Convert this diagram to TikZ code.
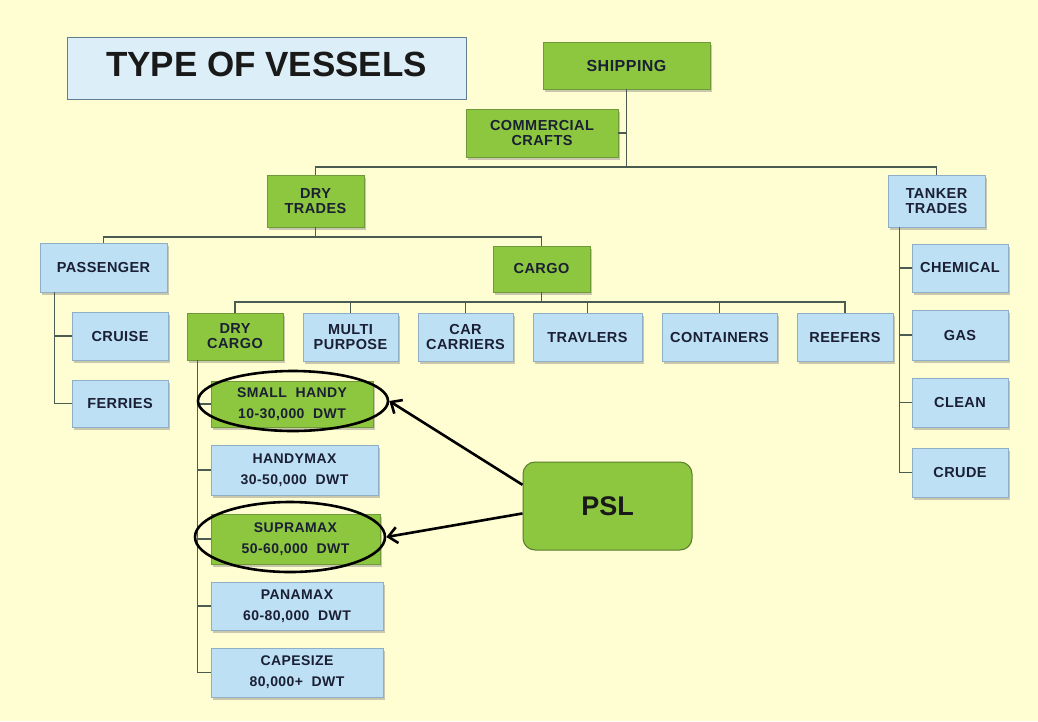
\documentclass[tikz,border=0pt]{standalone}
\usepackage{fontspec}
\setmainfont{Liberation Sans}
\newfontfamily\boxfont[LetterSpace=3]{Liberation Sans}
\usetikzlibrary{shadows,arrows.meta,calc,shapes.geometric}
\definecolor{bg}{HTML}{FFFDD2}
\definecolor{gfill}{HTML}{8DC63F}
\definecolor{gline}{HTML}{6E9A3A}
\definecolor{bfill}{HTML}{BEE0F5}
\definecolor{bline}{HTML}{8FAFC6}
\definecolor{tfill}{HTML}{DCEFF9}
\definecolor{tline}{HTML}{5F7F8F}
\definecolor{linec}{HTML}{4A5C52}
\definecolor{ink}{HTML}{1A1F33}
\begin{document}
\begin{tikzpicture}[x=1pt,y=-1pt,
  base/.style={rectangle, inner sep=0pt, align=center, text=ink,
    font=\boxfont\bfseries\fontsize{14.5}{15}\selectfont, line width=0.6pt,
    drop shadow={shadow xshift=2pt, shadow yshift=-3pt, opacity=0.35, fill=black!60}},
  gbox/.style={base, fill=gfill, draw=gline},
  bbox/.style={base, fill=bfill, draw=bline},
  tall/.style={font=\boxfont\bfseries\fontsize{14}{21}\selectfont},
  wire/.style={draw=linec, line width=1.5pt},
  ring/.style={ellipse, draw=black, line width=2.6pt, inner sep=0pt},
  pointer/.style={draw=black, line width=2.6pt, -{Straight Barb[length=9pt,width=16pt]}}
]
\fill[bg] (0,0) rectangle (1038,721);

% title
\node[rectangle, fill=tfill, draw=tline, line width=1pt, minimum width=399pt, minimum height=62pt,
  text depth=8pt, font=\bfseries\fontsize{35}{35}\selectfont, text=black!90] (title) at (266.5,68) {TYPE OF VESSELS};

% top levels
\node[gbox, minimum width=167pt, minimum height=47pt, font=\boxfont\bfseries\fontsize{16}{16}\selectfont] (ship) at (626.5,65.5) {SHIPPING};
\node[gbox, minimum width=152pt, minimum height=48pt] (comm) at (542,133) {COMMERCIAL\\CRAFTS};
\node[gbox, minimum width=97pt, minimum height=52pt] (dry) at (315.5,201) {DRY\\TRADES};
\node[bbox, minimum width=97pt, minimum height=52pt] (tank) at (936.5,201) {TANKER\\TRADES};

% dry trades children
\node[bbox, minimum width=127pt, minimum height=49pt] (pass) at (103.5,267.5) {PASSENGER};
\node[gbox, minimum width=97pt, minimum height=46pt] (cargo) at (541.5,269) {CARGO};
\node[bbox, minimum width=96pt, minimum height=48pt] (cruise) at (120,336) {CRUISE};
\node[bbox, minimum width=96pt, minimum height=47pt] (ferries) at (120,403.5) {FERRIES};

% cargo children
\node[gbox, minimum width=96pt, minimum height=47pt] (drycargo) at (235,336.5) {DRY\\CARGO};
\node[bbox, minimum width=95pt, minimum height=48pt] (multi) at (350.5,337) {MULTI\\PURPOSE};
\node[bbox, minimum width=95pt, minimum height=48pt] (car) at (465.5,337) {CAR\\CARRIERS};
\node[bbox, minimum width=109pt, minimum height=48pt] (trav) at (587.5,337) {TRAVLERS};
\node[bbox, minimum width=115pt, minimum height=48pt] (cont) at (719.5,337) {CONTAINERS};
\node[bbox, minimum width=96pt, minimum height=48pt] (reef) at (845,337) {REEFERS};

% dry cargo children
\node[gbox, tall, minimum width=162pt, minimum height=46pt] (small) at (292,404) {SMALL\ \ HANDY\\10-30,000\ \ DWT};
\node[bbox, tall, minimum width=167pt, minimum height=50pt] (handy) at (294.5,470) {HANDYMAX\\30-50,000\ \ DWT};
\node[gbox, tall, minimum width=169pt, minimum height=50pt] (supra) at (295.5,539) {SUPRAMAX\\50-60,000\ \ DWT};
\node[bbox, tall, minimum width=172pt, minimum height=48pt] (pana) at (297,606) {PANAMAX\\60-80,000\ \ DWT};
\node[bbox, tall, minimum width=172pt, minimum height=49pt] (cape) at (297,672.5) {CAPESIZE\\80,000+\ \ DWT};

% tanker children
\node[bbox, minimum width=96pt, minimum height=48pt] (chem) at (960,268) {CHEMICAL};
\node[bbox, minimum width=96pt, minimum height=50pt] (gas) at (960,335) {GAS};
\node[bbox, minimum width=96pt, minimum height=49pt] (clean) at (960,402.5) {CLEAN};
\node[bbox, minimum width=96pt, minimum height=49pt] (crude) at (960,472.5) {CRUDE};

% PSL
\node[rectangle, rounded corners=12pt, fill=gfill, draw=gline!80!black, line width=1pt,
  minimum width=169pt, minimum height=88pt, font=\bfseries\fontsize{27}{27}\selectfont,
  text=black!90] (psl) at (607.5,506) {PSL};

% connectors
\coordinate (j1) at (626.5,167);
\coordinate (j2) at (315.5,237);
\coordinate (j3) at (541.5,302);
\draw[wire] (ship.south) -- (j1);
\draw[wire] (comm.east) -- (comm.east -| j1);
\draw[wire] (dry.north) |- (j1) -| (tank.north);
\draw[wire] (dry.south) -- (j2);
\draw[wire] (pass.north) |- (j2) -| (cargo.north);
\draw[wire] (cargo.south) -- (j3);
\draw[wire] (drycargo.north) |- (j3) -| (reef.north);
\foreach \n in {multi,car,trav,cont} \draw[wire] (\n.north) -- (\n.north |- j3);

\coordinate (p0) at ($(pass.south west)+(15,0)$);
\draw[wire] (p0) |- (cruise.west);
\draw[wire] (p0) |- (ferries.west);

\coordinate (d0) at ($(drycargo.south west)+(11,0)$);
\foreach \n in {small,handy,supra,pana,cape} \draw[wire] (d0) |- (\n.west);

\coordinate (t0) at ($(tank.south west)+(12,0)$);
\foreach \n in {chem,gas,clean,crude} \draw[wire] (t0) |- (\n.west);

% highlight rings and arrows
\node[ring, minimum width=190pt, minimum height=60pt] (e1) at (293,401) {};
\node[ring, minimum width=190pt, minimum height=70pt] (e2) at (290,537) {};
\draw[pointer] (psl.166) -- (e1.east);
\draw[pointer] (psl.185) -- (e2.east);
\end{tikzpicture}
\end{document}
